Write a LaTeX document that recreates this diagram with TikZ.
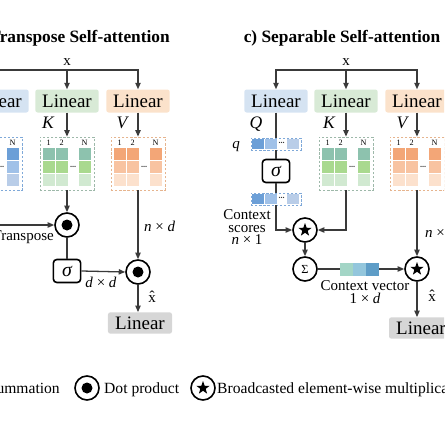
\documentclass[tikz,border=0pt]{standalone}
\usepackage{fontspec}
\setmainfont{Liberation Serif}
\usetikzlibrary{arrows.meta,shapes.geometric}

\definecolor{wire}{HTML}{3A3A3A}
\definecolor{qlin}{HTML}{D5E3F2}
\definecolor{klin}{HTML}{D8EAD6}
\definecolor{vlin}{HTML}{FBE2CB}
\definecolor{olin}{HTML}{D6D6D6}
\definecolor{qone}{HTML}{6C9FD7}
\definecolor{qtwo}{HTML}{A0C1E8}
\definecolor{qthree}{HTML}{B9CDE8}
\definecolor{kone}{HTML}{8DC2AE}
\definecolor{ktwo}{HTML}{A9D98F}
\definecolor{kthree}{HTML}{D1E9D1}
\definecolor{vone}{HTML}{F3A677}
\definecolor{vtwo}{HTML}{F8C3A1}
\definecolor{vthree}{HTML}{FCE1CD}
\definecolor{qdash}{HTML}{7FA9D9}
\definecolor{kdash}{HTML}{9DB8A9}
\definecolor{vdash}{HTML}{E6B48E}
\definecolor{ctxa}{HTML}{A3D5C6}
\definecolor{ctxb}{HTML}{93C6DC}
\definecolor{ctxc}{HTML}{5E9DC7}

\tikzset{
	ttl/.style={font=\fontsize{14.8}{16}\selectfont\bfseries, inner sep=0pt},
	lbl/.style={font=\fontsize{12.8}{11}\selectfont, inner sep=0pt},
	vlab/.style={font=\fontsize{15}{16}\selectfont\itshape, inner sep=0pt},
	lgd/.style={font=\fontsize{13.3}{15}\selectfont, inner sep=0pt},
	numlab/.style={font=\fontsize{7}{8}\selectfont, inner sep=0pt},
	dotsl/.style={font=\fontsize{7}{8}\selectfont\bfseries, text=black!80, inner sep=0pt},
	lin/.style={minimum width=1.9cm, minimum height=0.69cm, rounded corners=2pt, inner sep=0pt, font=\fontsize{16.2}{18}\selectfont},
	matbox/.style={draw, dash pattern=on 2pt off 1.5pt, line width=0.6pt, minimum width=1.62cm, minimum height=1.59cm, inner sep=0pt},
	vecbox/.style={draw=qdash, dash pattern=on 2pt off 1.5pt, line width=0.6pt, minimum width=1.5cm, minimum height=0.36cm, inner sep=0pt},
	ctxcell/.style={minimum width=0.38cm, minimum height=0.39cm, inner sep=0pt},
	sigbox/.style={draw=black, line width=1.4pt, rounded corners=3pt, minimum width=0.82cm, minimum height=0.69cm, inner sep=0pt, fill=white, font=\fontsize{17}{18}\selectfont\itshape},
	opcirc/.style={circle, draw=black, line width=1.4pt, minimum size=0.72cm, inner sep=0pt, fill=white},
	dotop/.style={opcirc, path picture={\fill[black] (path picture bounding box.center) circle (0.165cm);}},
	starop/.style={opcirc, path picture={\node[star, star points=5, star point ratio=2.5, fill=black, inner sep=0pt, minimum size=0.42cm] at (path picture bounding box.center) {};}},
	sumop/.style={opcirc, font=\fontsize{10.5}{11}\selectfont},
	flow/.style={draw=wire, line width=1.1pt, -{Triangle[length=5.5pt,width=4.5pt]}},
	wireln/.style={draw=wire, line width=1.1pt}
}

% feature matrix: name, centre, three row colours, border colour
\def\featmat#1(#2,#3)#4#5#6#7{%
	\node[matbox, draw=#7] (#1) at (#2,#3) {};
	\begin{scope}[shift={(#1.north west)}]
		\node[numlab] (#1-a) at (9,6) {1};
		\node[numlab] (#1-b) at (22,6) {2};
		\node[numlab] (#1-n) at (45,6) {N};
		\foreach \rr/\cc in {0/#4,1/#5,2/#6}
			\foreach \xx in {3,16,39}
				\fill[fill=\cc] (\xx,{11+13*\rr}) rectangle ++(12,12.3);
		\node[dotsl] (#1-d) at (33.5,30) {...};
	\end{scope}}

% query / score vector
\def\featvec#1(#2,#3){%
	\node[vecbox] (#1) at (#2,#3) {};
	\begin{scope}[shift={(#1.north west)}]
		\fill[qone] (1,1) rectangle (13,11);
		\fill[qtwo] (14,1) rectangle (26,11);
		\fill[qthree] (36,1) rectangle (48,11);
		\node[dotsl] (#1-d) at (31,5.5) {...};
	\end{scope}}

\begin{document}
\begin{tikzpicture}[x=0.03cm, y=-0.03cm]
			%%%%% START %%%%%
			\useasboundingbox (0,0) rectangle (444,444);
			\clip (0,0) rectangle (444,444);
			
			% titles
			\node[ttl, anchor=base east] (ttlb) at (170,42.5) {Transpose Self-attention};
			\node[ttl, anchor=base] (ttlc) at (342,42.5) {c) Separable Self-attention};
			
			% ---- transpose self-attention ----
			\node[lbl, anchor=base] (xb) at (67,65) {x};
			\coordinate (xb-row) at (67,70);
			
			\node[lin, fill=qlin] (linQb) at (-3,101) {Linear};
			\node[lin, fill=klin] (linKb) at (67,101) {Linear};
			\node[lin, fill=vlin] (linVb) at (138,101) {Linear};
			
			\draw[flow] (xb-row) -| (linQb.north);
			\draw[flow] (xb-row) -| (linVb.north);
			\draw[flow] (xb-row) -- (linKb.north);
			
			\node[vlab, anchor=base] (kb) at (48,128) {K};
			\node[vlab, anchor=base] (vb) at (122,128) {V};
			
			\featmat{qmatb}(-5,163.5){qone}{qtwo}{qthree}{qdash}
			\featmat{kmatb}(67,163.5){kone}{ktwo}{kthree}{kdash}
			\featmat{vmatb}(138,163.5){vone}{vtwo}{vthree}{vdash}
			
			\draw[flow] (linQb.south) -- (qmatb.north);
			\draw[flow] (linKb.south) -- (kmatb.north);
			\draw[flow] (linVb.south) -- (vmatb.north);
			
			\node[dotop] (dotA) at (67,225) {};
			\node[sigbox] (sigb) at (67,271) {σ};
			\node[dotop] (dotB) at (138,272) {};
			\node[lin, fill=olin, minimum width=1.92cm, minimum height=0.64cm] (outb) at (140,323) {Linear};
			
			\draw[flow] (qmatb.south) |- (dotA.west);
			\draw[flow] (kmatb.south) -- (dotA.north);
			\draw[wireln] (dotA.south) -- (sigb.north);
			\draw[flow] (sigb.east) -- (dotB.west);
			\draw[flow] (vmatb.south) -- (dotB.north);
			\draw[flow] (dotB.south) -- (dotB.south |- outb.north);
			
			\node[lbl, anchor=base east] (trb) at (54,240) {Transpose};
			\node[lbl, anchor=base] (ddb) at (101,287) {\textit{d} × \textit{d}};
			\node[lbl, anchor=base west] (ndb) at (144,231) {\textit{n} × \textit{d}};
			\node[lbl, anchor=base] (xhb) at (152,302) {\^{x}};
			
			% ---- separable self-attention ----
			\node[lbl, anchor=base] (xc) at (346,65) {x};
			\coordinate (xc-row) at (346,70);
			
			\node[lin, fill=qlin] (linQc) at (276,101) {Linear};
			\node[lin, fill=klin] (linKc) at (346,101) {Linear};
			\node[lin, fill=vlin] (linVc) at (417,101) {Linear};
			
			\draw[flow] (xc-row) -| (linQc.north);
			\draw[flow] (xc-row) -| (linVc.north);
			\draw[flow] (xc-row) -- (linKc.north);
			
			\node[vlab, anchor=base] (qc) at (256,128) {Q};
			\node[vlab, anchor=base] (kc) at (329,128) {K};
			\node[vlab, anchor=base] (vc) at (402,128) {V};
			
			\featvec{qvec}(276,144)
			\node[lbl, anchor=base] (qlab) at (236,148) {\textit{q}};
			\node[sigbox] (sigc) at (276,171) {σ};
			\featvec{scores}(276,199)
			\featmat{kmatc}(346,163.5){kone}{ktwo}{kthree}{kdash}
			\featmat{vmatc}(417,163.5){vone}{vtwo}{vthree}{vdash}
			
			\draw[wireln] (linQc.south) -- (qvec.north);
			\draw[wireln] (qvec.south) -- (sigc.north);
			\draw[wireln] (sigc.south) -- (scores.north);
			\draw[flow] (linKc.south) -- (kmatc.north);
			\draw[flow] (linVc.south) -- (vmatc.north);
			
			\node[starop] (starA) at (305,230) {};
			\node[sumop] (sumC) at (305,269) {Σ};
			\node[ctxcell, fill=ctxa] (ctxa) at (346.5,269) {};
			\node[ctxcell, fill=ctxb] (ctxb) at (359.5,269) {};
			\node[ctxcell, fill=ctxc] (ctxc) at (372.5,269) {};
			\node[starop] (starB) at (417,269) {};
			\node[lin, fill=olin, minimum width=1.92cm, minimum height=0.64cm] (outc) at (421,328) {Linear};
			
			\draw[flow] (scores.south) |- (starA.west);
			\draw[flow] (kmatc.south) |- (starA.east);
			\draw[flow] (starA.south) -- (sumC.north);
			\draw[wireln] (sumC.east) -- (ctxa.west);
			\draw[flow] (ctxc.east) -- (starB.west);
			\draw[flow] (vmatc.south) -- (starB.north);
			\draw[flow] (starB.south) -- (starB.south |- outc.north);
			
			\node[lbl, align=center, anchor=north] (csc) at (247,209) {Context\\scores\\\textit{n} × 1};
			\node[lbl, align=center, anchor=north] (cvc) at (365,280) {Context vector\\1 × \textit{d}};
			\node[lbl, anchor=base west] (ndc) at (425,237) {\textit{n} × \textit{d}};
			\node[lbl, anchor=base] (xhc) at (432,301) {\^{x}};
			
			% ---- legend ----
			\node[lgd, anchor=base east] (lgsum) at (60,393) {Summation};
			\node[dotop] (lgdot) at (87,388) {};
			\node[lgd, anchor=base west] (lgdott) at (104,393) {Dot product};
			\node[starop] (lgstar) at (203,388) {};
			\node[lgd, anchor=base west] (lgstart) at (217,393) {Broadcasted element-wise multiplication};
			%%%%% END %%%%%
\end{tikzpicture}
\end{document}
